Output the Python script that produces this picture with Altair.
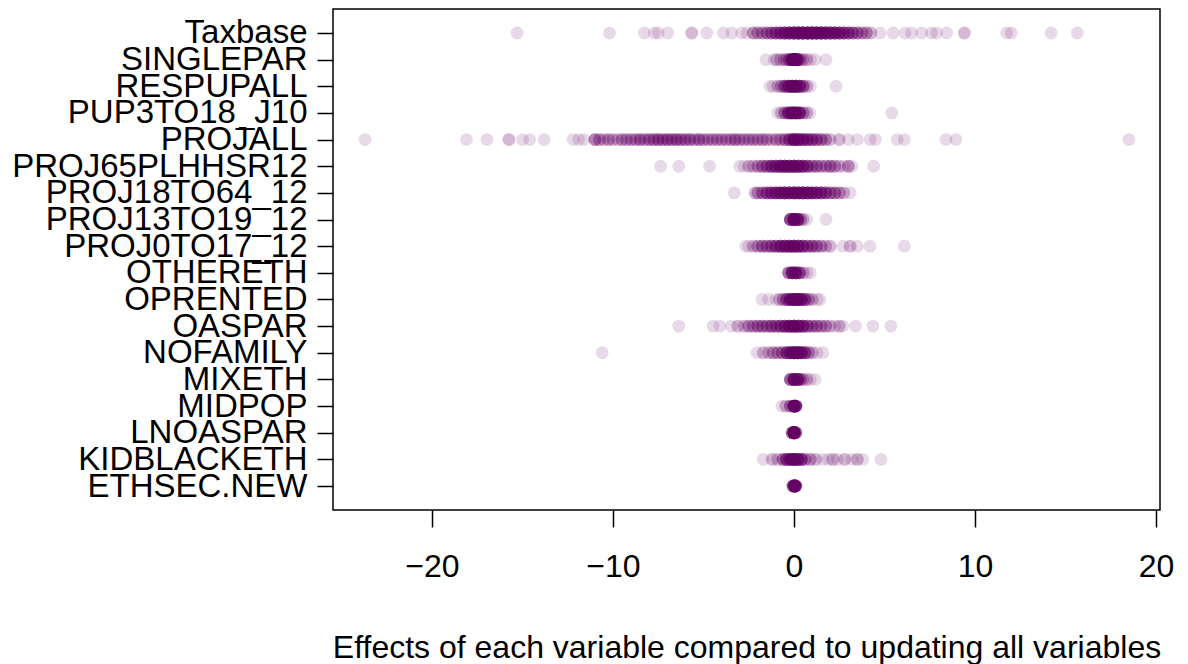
import altair as alt
import numpy as np
import pandas as pd

# Row order, top to bottom
rows = ["Taxbase", "SINGLEPAR", "RESPUPALL", "PUP3TO18_J10", "PROJALL",
        "PROJ65PLHHSR12", "PROJ18TO64_12", "PROJ13TO19_12", "PROJ0TO17_12",
        "OTHERETH", "OPRENTED", "OASPAR", "NOFAMILY", "MIXETH", "MIDPOP",
        "LNOASPAR", "KIDBLACKETH", "ETHSEC.NEW"]

taxbase_vals = [-15.3, -10.2, -8.27, -7.72, -7.5, -6.98, -5.65, -4.82, -3.9, -3.44, -2.89, -2.6,
                -2.25, -2.0, -1.75, -1.5, -1.25, -1.0, -0.75, -0.5, -0.25, 0.0, 0.25, 0.5, 0.75,
                1.0, 1.25, 1.5, 1.75, 2.0, 2.25, 2.5, 2.75, 3.0, 3.25, 3.5, 3.75, 4.0, 4.25,
                4.75, 5.47, 6.13, 6.5, 7.05, 7.6, 7.88, 8.43, 9.41, 11.75, 12.0, 14.2, 15.65]
taxbase_counts = [1, 1, 1, 1, 1, 1, 2, 1, 1, 1, 1, 1,
                  3, 3, 3, 4, 5, 6, 7, 9, 10, 12, 13, 14, 14, 14, 13, 12, 11, 10, 9, 8, 7, 6, 5, 4, 3, 3, 2,
                  1, 1, 1, 1, 1, 1, 1, 1, 2, 1, 1, 1, 1]

singlepar_vals = [-1.55, -1.1, -0.95, -0.75, -0.55, -0.4, -0.25, -0.1, 0.0, 0.1, 0.2, 0.35, 0.5, 0.7, 0.9, 1.16, 1.77]
singlepar_counts = [1, 1, 2, 2, 2, 3, 5, 10, 20, 15, 8, 3, 2, 2, 1, 1, 1]

respupall_vals = [-1.33, -1.15, -0.9, -0.7, -0.5, -0.3, -0.1, 0.1, 0.3, 0.5, 0.7, 0.9, 2.32]
respupall_counts = [1, 1, 2, 3, 6, 9, 12, 12, 9, 5, 2, 1, 1]

pup3to18_vals = [-0.9, -0.7, -0.5, -0.3, -0.1, 0.1, 0.3, 0.5, 0.7, 0.88, 5.4]
pup3to18_counts = [1, 2, 4, 9, 12, 12, 9, 3, 2, 1, 1]

projall_vals = [-23.7, -18.1, -16.96, -15.75, -15.0, -14.6, -13.8, -12.2, -11.9, -11.6,
                -11.0, -10.75, -10.5, -10.25, -10.0, -9.75, -9.5, -9.25, -9.0, -8.75, -8.5, -8.25,
                -8.0, -7.75, -7.5, -7.25, -7.0, -6.75, -6.5, -6.25, -6.0, -5.75, -5.5, -5.25,
                -5.0, -4.75, -4.5, -4.25, -4.0, -3.75, -3.5, -3.25, -3.0, -2.75, -2.5, -2.25,
                -2.0, -1.75, -1.5, -1.25, -1.0, -0.75, -0.5, -0.25, 0.0, 0.25, 0.5, 0.75,
                1.0, 1.25, 1.5, 1.75, 2.0,
                2.5, 3.0, 3.5, 4.2, 4.5, 5.7, 6.1, 8.4, 8.95, 18.5]
projall_counts = [1, 1, 1, 2, 1, 1, 1, 1, 1, 1,
                  4, 3, 2, 3, 2, 2, 3, 3, 3, 3, 4, 3,
                  4, 4, 5, 4, 5, 4, 5, 4, 4, 4, 3, 4,
                  3, 3, 3, 3, 3, 3, 3, 4, 3, 3, 3, 3,
                  3, 3, 3, 2, 3, 3, 4, 7, 12, 10, 8, 7,
                  6, 5, 4, 3, 2,
                  2, 1, 1, 1, 1, 1, 1, 1, 1, 1]

proj65_vals = [-7.37, -6.37, -4.66, -3.0, -2.75, -2.5, -2.25, -2.0, -1.75, -1.5, -1.25, -1.0,
               -0.75, -0.5, -0.25, 0.0, 0.25, 0.5, 0.75, 1.0, 1.25, 1.5, 1.75, 2.0, 2.25, 2.5,
               2.75, 3.0, 3.2, 4.4]
proj65_counts = [1, 1, 1, 1, 1, 2, 2, 3, 4, 5, 7, 8, 10, 11, 11, 11, 10, 8, 6, 4, 4, 3, 3, 4, 3, 2,
                 1, 3, 1, 1]

proj18_vals = [-3.3, -2.15, -2.0, -1.75, -1.5, -1.25, -1.0, -0.75, -0.5, -0.25, 0.0, 0.25, 0.5,
               0.75, 1.0, 1.25, 1.5, 1.75, 2.0, 2.25, 2.5, 2.75, 3.1]
proj18_counts = [1, 2, 3, 4, 6, 7, 8, 9, 10, 10, 11, 11, 11, 10, 9, 8, 7, 6, 4, 4, 3, 2, 1]

proj13_vals = [-0.2, 0.0, 0.2, 0.35, 0.5, 0.7, 1.77]
proj13_counts = [8, 15, 10, 3, 2, 1, 1]

proj0_vals = [-2.67, -2.5, -2.25, -2.0, -1.75, -1.5, -1.25, -1.0, -0.75, -0.5, -0.25, 0.0, 0.25,
              0.5, 0.75, 1.0, 1.25, 1.5, 1.75, 2.0, 2.7, 3.1, 3.5, 4.2, 6.1]
proj0_counts = [1, 1, 2, 3, 4, 4, 5, 6, 8, 9, 10, 10, 9, 7, 5, 5, 4, 3, 2, 2, 1, 2, 1, 1, 1]

othereth_vals = [-0.3, -0.1, 0.1, 0.3, 0.5, 0.7, 0.9]
othereth_counts = [5, 10, 10, 6, 2, 1, 1]

oprented_vals = [-1.77, -1.4, -1.0, -0.8, -0.6, -0.4, -0.2, 0.0, 0.2, 0.4, 0.6, 0.8, 1.0, 1.27, 1.43]
oprented_counts = [1, 1, 1, 2, 3, 6, 9, 12, 12, 9, 6, 3, 2, 1, 1]

oaspar_vals = [-6.37, -4.47, -4.1, -3.46, -3.1, -2.75, -2.5, -2.25, -2.0, -1.75, -1.5, -1.25, -1.0,
               -0.75, -0.5, -0.25, 0.0, 0.25, 0.5, 0.75, 1.0, 1.25, 1.5, 1.75, 2.0, 2.25, 2.5,
               2.7, 3.4, 4.36, 5.35]
oaspar_counts = [1, 1, 1, 1, 2, 2, 3, 3, 4, 4, 4, 5, 5, 6, 8, 10, 12, 10, 8, 5, 4, 4, 3, 3, 2, 1, 2,
                 1, 1, 1, 1]

nofamily_vals = [-10.6, -2.05, -1.7, -1.4, -1.15, -0.9, -0.65, -0.4, -0.2, 0.0, 0.2, 0.4, 0.6, 0.8, 1.0, 1.27, 1.6]
nofamily_counts = [1, 1, 2, 2, 3, 3, 4, 7, 9, 12, 12, 9, 6, 3, 2, 1, 1]

mixeth_vals = [-0.2, 0.0, 0.2, 0.35, 0.5, 0.7, 0.9, 1.16]
mixeth_counts = [6, 12, 10, 4, 2, 2, 1, 1]

midpop_vals = [-0.67, -0.45, -0.2, 0.0, 0.1]
midpop_counts = [1, 2, 4, 15, 10]

lnoaspar_vals = [-0.1, 0.0, 0.1]
lnoaspar_counts = [6, 20, 6]

kidblack_vals = [-1.7, -1.2, -0.9, -0.6, -0.4, -0.2, 0.0, 0.2, 0.4, 0.6, 0.9, 1.2, 1.6, 1.9, 2.15,
                 2.4, 2.8, 3.2, 3.5, 3.8, 4.8]
kidblack_counts = [1, 2, 2, 4, 7, 9, 12, 9, 7, 3, 3, 2, 1, 1, 2, 1, 2, 1, 2, 1, 1]

ethsec_vals = [-0.05, 0.05, 0.1]
ethsec_counts = [8, 15, 5]

x_ticks = [-20, -10, 0, 10, 20]

series = [
    ("Taxbase", taxbase_vals, taxbase_counts),
    ("SINGLEPAR", singlepar_vals, singlepar_counts),
    ("RESPUPALL", respupall_vals, respupall_counts),
    ("PUP3TO18_J10", pup3to18_vals, pup3to18_counts),
    ("PROJALL", projall_vals, projall_counts),
    ("PROJ65PLHHSR12", proj65_vals, proj65_counts),
    ("PROJ18TO64_12", proj18_vals, proj18_counts),
    ("PROJ13TO19_12", proj13_vals, proj13_counts),
    ("PROJ0TO17_12", proj0_vals, proj0_counts),
    ("OTHERETH", othereth_vals, othereth_counts),
    ("OPRENTED", oprented_vals, oprented_counts),
    ("OASPAR", oaspar_vals, oaspar_counts),
    ("NOFAMILY", nofamily_vals, nofamily_counts),
    ("MIXETH", mixeth_vals, mixeth_counts),
    ("MIDPOP", midpop_vals, midpop_counts),
    ("LNOASPAR", lnoaspar_vals, lnoaspar_counts),
    ("KIDBLACKETH", kidblack_vals, kidblack_counts),
    ("ETHSEC.NEW", ethsec_vals, ethsec_counts),
]

frames = []
for name, v, c in series:
    assert len(v) == len(c), name
    frames.append(pd.DataFrame({"variable": name, "value": np.repeat(v, c)}))
df = pd.concat(frames, ignore_index=True)

FONT = "Liberation Sans"

chart = alt.Chart(df).mark_circle(
    size=165, color="#660066", opacity=0.15
).encode(
    x=alt.X("value:Q",
            scale=alt.Scale(domain=[-25.47, 20.22], nice=False, zero=False),
            axis=alt.Axis(values=x_ticks, format="d", grid=False, domain=False,
                          tickSize=17, tickWidth=1.5, tickColor="black",
                          labelFontSize=32, labelColor="black", labelFont=FONT,
                          labelPadding=24, labelFlush=False,
                          title="Effects of each variable compared to updating all variables",
                          titleFontSize=32, titleFont=FONT, titleFontWeight="normal",
                          titleColor="black", titlePadding=50)),
    y=alt.Y("variable:N", sort=rows,
            scale=alt.Scale(type="point", padding=0.9),
            axis=alt.Axis(title=None, grid=False, domain=False,
                          tickSize=16, tickWidth=1.5, tickColor="black",
                          labelFontSize=33, labelColor="black", labelFont=FONT,
                          labelPadding=10, labelOverlap=False, labelLimit=0,
                          labelBaseline="middle")),
).properties(
    width=827, height=501,
    autosize=alt.AutoSizeParams(type="none"),
    padding={"left": 325, "top": 1, "right": 20, "bottom": 155},
).configure(
    background="white"
).configure_view(
    stroke="black", strokeWidth=1.5
)

chart.save("out.html", embed_options={"renderer": "svg", "actions": False})
